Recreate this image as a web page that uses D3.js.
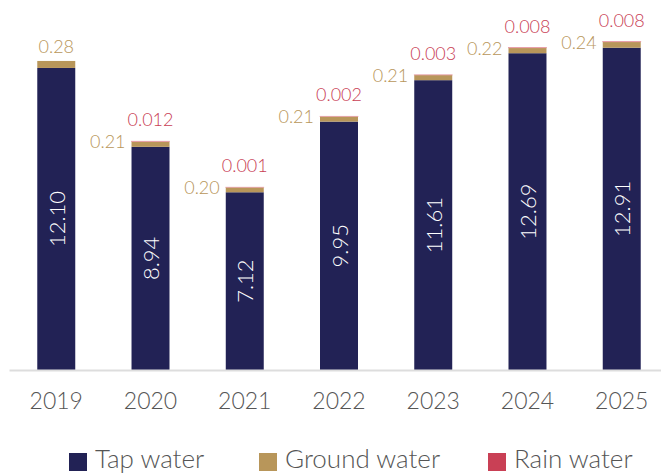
<!DOCTYPE html>
<html>
<head>
<meta charset="utf-8">
<script src="https://cdn.jsdelivr.net/npm/d3@7"></script>
<style>
  body { margin: 0; background: #fff; }
  text { font-family: "Lato", "Open Sans", sans-serif; font-weight: 400; }
</style>
</head>
<body>
<div id="chart"></div>
<script>
var svgWidth = 661;
var svgHeight = 473;

// chart data
var years = ["2019", "2020", "2021", "2022", "2023", "2024", "2025"];
var tapWater = [12.10, 8.94, 7.12, 9.95, 11.61, 12.69, 12.91];
var groundWater = [0.28, 0.21, 0.20, 0.21, 0.21, 0.22, 0.24];
var rainWater = [0, 0.012, 0.001, 0.002, 0.003, 0.008, 0.008];
var tapLabels = ["12.10", "8.94", "7.12", "9.95", "11.61", "12.69", "12.91"];
var groundLabels = ["0.28", "0.21", "0.20", "0.21", "0.21", "0.22", "0.24"];
var rainLabels = ["", "0.012", "0.001", "0.002", "0.003", "0.008", "0.008"];
var seriesNames = ["Tap water", "Ground water", "Rain water"];

var colors = ["#222255", "#b8965a", "#c94055"];
var textGray = "#555555";

var svg = d3.select("#chart")
  .append("svg")
  .attr("width", svgWidth)
  .attr("height", svgHeight);

var x = d3.scaleBand()
  .domain(years)
  .range([9, 669])
  .paddingInner(0.597)
  .paddingOuter(0.3);

var y = d3.scaleLinear()
  .domain([0, 13.5])
  .range([370, 33]);

var data = years.map(function (yr, i) {
  return {
    year: yr,
    tap: tapWater[i],
    ground: groundWater[i],
    rain: rainWater[i],
    tapLabel: tapLabels[i],
    groundLabel: groundLabels[i],
    rainLabel: rainLabels[i]
  };
});

var stack = d3.stack().keys(["tap", "ground", "rain"]);
var series = stack(data);

var layers = svg.selectAll("g.layer")
  .data(series)
  .enter()
  .append("g")
  .attr("class", "layer")
  .attr("fill", (d, i) => colors[i]);

layers.selectAll("rect")
  .data(d => d)
  .enter()
  .append("rect")
  .attr("x", d => x(d.data.year))
  .attr("width", x.bandwidth())
  .attr("y", d => y(d[1]))
  .attr("height", d => y(d[0]) - y(d[1]));

// rain layer is very thin, give it a hairline so it shows
layers.filter((d, i) => i === 2).selectAll("rect")
  .attr("stroke", d => d.data.rain > 0 ? "#e8a0aa" : "none")
  .attr("stroke-width", 0.8);

// x axis
var xAxis = svg.append("g")
  .attr("transform", "translate(0, 370)")
  .call(d3.axisBottom(x).tickSize(0).tickPadding(23));

xAxis.select(".domain")
  .attr("stroke", "#dddddd")
  .attr("stroke-width", 2);

xAxis.selectAll("text")
  .attr("fill", textGray)
  .style("font-size", "23px")
  .style("font-weight", 300);

// labels inside tap bars
svg.selectAll("text.tap")
  .data(data)
  .enter()
  .append("text")
  .attr("class", "tap")
  .attr("transform", d => `translate(${x(d.year) + x.bandwidth() / 2}, ${(y(0) + y(d.tap)) / 2}) rotate(-90)`)
  .attr("text-anchor", "middle")
  .attr("dominant-baseline", "central")
  .attr("fill", "#ffffff")
  .style("font-size", "22px")
  .style("font-weight", 300)
  .text(d => d.tapLabel);

// ground water labels
svg.selectAll("text.ground")
  .data(data)
  .enter()
  .append("text")
  .attr("class", "ground")
  .attr("x", d => d.rain > 0 ? x(d.year) - 6 : x(d.year) + x.bandwidth() / 2)
  .attr("y", d => {
    var top = y(d.tap + d.ground + d.rain);
    return d.rain > 0 ? top + 7 : top - 8;
  })
  .attr("text-anchor", d => d.rain > 0 ? "end" : "middle")
  .attr("fill", colors[1])
  .style("font-size", "18px")
  .style("font-weight", 300)
  .text(d => d.groundLabel);

// rain water labels
svg.selectAll("text.rain")
  .data(data.filter(d => d.rain > 0))
  .enter()
  .append("text")
  .attr("class", "rain")
  .attr("x", d => x(d.year) + x.bandwidth() / 2)
  .attr("y", d => y(d.tap + d.ground + d.rain) - 15)
  .attr("text-anchor", "middle")
  .attr("fill", colors[2])
  .style("font-size", "18px")
  .style("font-weight", 300)
  .text(d => d.rainLabel);

// legend
var legendX = [69, 259, 488];
var legend = svg.selectAll("g.legend")
  .data(seriesNames)
  .enter()
  .append("g")
  .attr("class", "legend")
  .attr("transform", (d, i) => `translate(${legendX[i]}, 453)`);

legend.append("rect")
  .attr("width", 18)
  .attr("height", 18)
  .attr("fill", (d, i) => colors[i]);

legend.append("text")
  .attr("x", 26)
  .attr("y", 15)
  .attr("fill", textGray)
  .style("font-size", "26px")
  .style("font-weight", 300)
  .text(d => d);
</script>
</body>
</html>
